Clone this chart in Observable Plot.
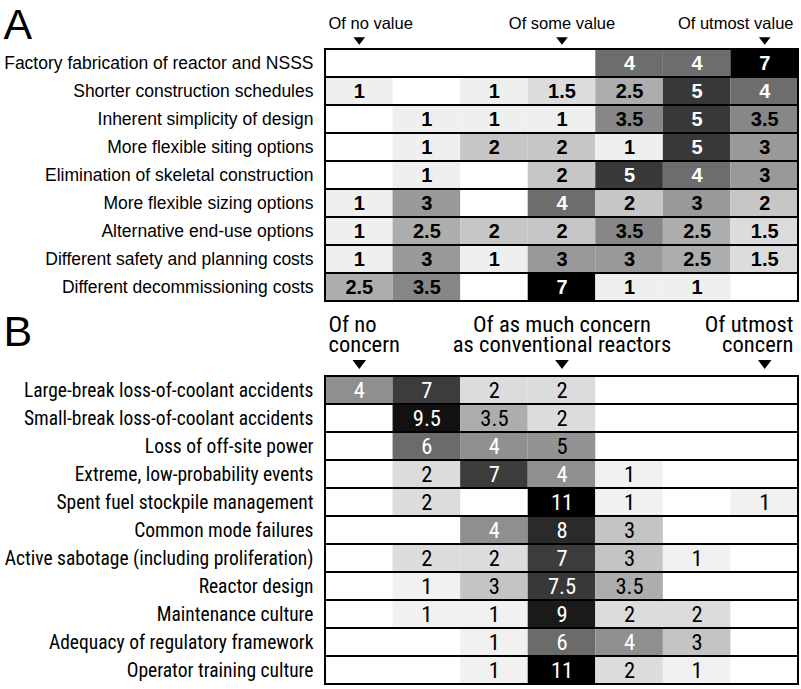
<!DOCTYPE html>
<html><head><meta charset="utf-8">
<script src="https://cdn.jsdelivr.net/npm/d3@7"></script>
<script src="https://cdn.jsdelivr.net/npm/@observablehq/plot@0.6"></script>
<style>
html,body{margin:0;padding:0;background:#fff;}
#chart{width:801px;height:689px;overflow:hidden;}
#chart svg{display:block;}
</style></head><body><div id="chart"></div>
<script>
const columns = [1, 2, 3, 4, 5, 6, 7];

const rowsA = [
  "Factory fabrication of reactor and NSSS",
  "Shorter construction schedules",
  "Inherent simplicity of design",
  "More flexible siting options",
  "Elimination of skeletal construction",
  "More flexible sizing options",
  "Alternative end-use options",
  "Different safety and planning costs",
  "Different decommissioning costs"
];
const valuesA = [
  [0, 0, 0, 0, 4, 4, 7],
  [1, 0, 1, 1.5, 2.5, 5, 4],
  [0, 1, 1, 1, 3.5, 5, 3.5],
  [0, 1, 2, 2, 1, 5, 3],
  [0, 1, 0, 2, 5, 4, 3],
  [1, 3, 0, 4, 2, 3, 2],
  [1, 2.5, 2, 2, 3.5, 2.5, 1.5],
  [1, 3, 1, 3, 3, 2.5, 1.5],
  [2.5, 3.5, 0, 7, 1, 1, 0]
];
const headerLabelsA = ["Of no value", "Of some value", "Of utmost value"];
const headerColsA = [1, 4, 7];

const rowsB = [
  "Large-break loss-of-coolant accidents",
  "Small-break loss-of-coolant accidents",
  "Loss of off-site power",
  "Extreme, low-probability events",
  "Spent fuel stockpile management",
  "Common mode failures",
  "Active sabotage (including proliferation)",
  "Reactor design",
  "Maintenance culture",
  "Adequacy of regulatory framework",
  "Operator training culture"
];
const valuesB = [
  [4, 7, 2, 2, 0, 0, 0],
  [0, 9.5, 3.5, 2, 0, 0, 0],
  [0, 6, 4, 5, 0, 0, 0],
  [0, 2, 7, 4, 1, 0, 0],
  [0, 2, 0, 11, 1, 0, 1],
  [0, 0, 4, 8, 3, 0, 0],
  [0, 2, 2, 7, 3, 1, 0],
  [0, 1, 3, 7.5, 3.5, 0, 0],
  [0, 1, 1, 9, 2, 2, 0],
  [0, 0, 1, 6, 4, 3, 0],
  [0, 0, 1, 11, 2, 1, 0]
];
const headerLabelsB = ["Of no\nconcern", "Of as much concern\nas conventional reactors", "Of utmost\nconcern"];
const headerColsB = [1, 4, 7];

const grayLevelsA = [1, 1.5, 2, 2.5, 3, 3.5, 4, 5, 7];
const grayColorsA = ["#efefef", "#dcdcdc", "#c6c6c6", "#adadad", "#999999", "#878787", "#6d6d6d", "#383838", "#000000"];
const grayLevelsB = [1, 2, 3, 3.5, 4, 5, 6, 7, 7.5, 8, 9, 9.5, 11];
const grayColorsB = ["#f1f1f1", "#dcdcdc", "#c4c4c4", "#adadad", "#8f8f8f", "#939393", "#6b6b6b", "#3c3c3c", "#383838", "#2a2a2a", "#1a1a1a", "#111111", "#000000"];

function cells(rows, values) {
  return rows.flatMap((r, i) => values[i].map((v, j) => ({row: r, col: columns[j], value: v}))).filter(d => d.value > 0);
}

// pick an installed condensed face for panel B (reference uses a condensed Helvetica)
const ctx = document.createElement("canvas").getContext("2d");
function measure(text, family, stretch) {
  ctx.font = `${stretch === "condensed" ? "condensed " : ""}20px ${family}`;
  if ("fontStretch" in ctx) ctx.fontStretch = stretch || "normal";
  return ctx.measureText(text).width;
}
function pickCondensed() {
  const sample = "Active sabotage (including proliferation)";
  const base = measure(sample, "monospace", "normal");
  const cands = [
    {family: "Liberation Sans Narrow", stretch: "normal"},
    {family: "Roboto Condensed", stretch: "normal"},
    {family: "DejaVu Sans Condensed", stretch: "normal"},
    {family: "Noto Sans", stretch: "condensed"},
    {family: "Open Sans", stretch: "condensed"},
    {family: "DejaVu Sans", stretch: "condensed"}
  ];
  for (const c of cands) {
    const fam = `'${c.family}', monospace`;
    const wNorm = measure(sample, fam, "normal");
    if (Math.abs(wNorm - base) < 0.5) continue;
    if (c.stretch === "normal") return c;
    const w = measure(sample, fam, c.stretch);
    if (w < wNorm * 0.95) return c;
  }
  return {family: "Liberation Sans", stretch: "normal"};
}
const condB = pickCondensed();
const famB = `'${condB.family}', 'Liberation Sans', sans-serif`;
const fitSize = (text, target) => 20 * target / measure(text, famB, condB.stretch);
const labelSizeB = fitSize("Active sabotage (including proliferation)", 309);
const headerSizeB = fitSize("Of as much concern", 178);
const numSizeB = headerSizeB;

const downTri = {
  draw(c, size) {
    const r = Math.sqrt(size / Math.PI);
    const h = r * 1.3;
    c.moveTo(-r, -h / 2);
    c.lineTo(r, -h / 2);
    c.lineTo(0, h / 2);
    c.closePath();
  }
};

function panel(o) {
  const data = cells(o.rows, o.values);
  const [c0, c1, c2] = o.headerCols;
  const svg = Plot.plot({
    width: 801,
    height: o.height,
    marginLeft: 325,
    marginRight: 3,
    marginTop: o.marginTop,
    marginBottom: o.marginBottom,
    x: {domain: [0.5, 7.5], axis: null},
    y: {type: "band", domain: o.rows, axis: null, padding: 0},
    color: {type: "ordinal", domain: o.levels, range: o.colors},
    style: {fontFamily: o.font, fontSize: "17px", color: "black", background: "white", overflow: "visible"},
    marks: [
      Plot.barX(data, {x1: d => d.col - 0.5, x2: d => d.col + 0.5, y: "row", fill: "value"}),
      Plot.barX(o.rows, {x1: 0.5, x2: 7.5, y: d => d, fill: "none", stroke: "black", strokeWidth: 2}),
      Plot.text(data.filter(d => !o.whiteText(d.value)), {x: "col", y: "row", text: d => String(d.value), fill: "black", fontSize: o.numSize, fontWeight: o.numWeight}),
      Plot.text(data.filter(d => o.whiteText(d.value)), {x: "col", y: "row", text: d => String(d.value), fill: "white", fontSize: o.numSize, fontWeight: o.numWeight}),
      Plot.text(o.rows, {y: d => d, text: d => d, frameAnchor: "left", textAnchor: "end", dx: -12, fontSize: o.labelSize}),
      Plot.text([o.headerLabels[0]], {x: c0 - 0.5, text: d => d, frameAnchor: "top", lineAnchor: "bottom", textAnchor: "start", dx: 3, dy: o.headerDy, fontSize: o.headerSize, lineHeight: o.lineHeight}),
      Plot.text([o.headerLabels[1]], {x: c1, text: d => d, frameAnchor: "top", lineAnchor: "bottom", textAnchor: "middle", dy: o.headerDy, fontSize: o.headerSize, lineHeight: o.lineHeight}),
      Plot.text([o.headerLabels[2]], {x: c2 + 0.5, text: d => d, frameAnchor: "top", lineAnchor: "bottom", textAnchor: "end", dx: -5, dy: o.headerDy, fontSize: o.headerSize, lineHeight: o.lineHeight}),
      Plot.dot(o.headerCols, {x: d => d, frameAnchor: "top", dy: o.triDy, symbol: downTri, r: o.triR, fill: "black", stroke: "none"}),
      Plot.text([o.letter], {text: d => d, frameAnchor: "top-left", textAnchor: "start", lineAnchor: "bottom", dx: -322, dy: o.letterDy, fontSize: 43, fontFamily: "Liberation Sans, Arial, sans-serif"})
    ]
  });
  svg.style.fontStretch = o.stretch;
  return svg;
}

const chart = document.getElementById("chart");
chart.appendChild(panel({
  rows: rowsA, values: valuesA, headerLabels: headerLabelsA, headerCols: headerColsA,
  levels: grayLevelsA, colors: grayColorsA, letter: "A",
  height: 312, marginTop: 46, marginBottom: 8,
  font: "'Liberation Sans', Arial, sans-serif", stretch: "normal",
  numSize: 20, numWeight: "bold", labelSize: 17.5, headerSize: 16.5, lineHeight: 1.15,
  headerDy: -18, triDy: -5.5, triR: 5.8, letterDy: -8,
  whiteText: v => v >= 4
}));
chart.appendChild(panel({
  rows: rowsB, values: valuesB, headerLabels: headerLabelsB, headerCols: headerColsB,
  levels: grayLevelsB, colors: grayColorsB, letter: "B",
  height: 377, marginTop: 60, marginBottom: 2,
  font: famB, stretch: condB.stretch,
  numSize: numSizeB, numWeight: "normal", labelSize: labelSizeB, headerSize: headerSizeB, lineHeight: 19.5 / headerSizeB,
  headerDy: -21, triDy: -8, triR: 6.8, letterDy: -27,
  whiteText: v => v >= 6 || v === 4
}));
</script></body></html>
